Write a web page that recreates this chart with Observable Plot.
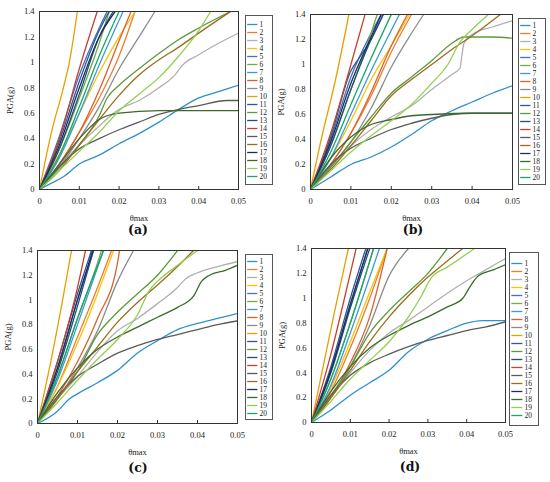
<!DOCTYPE html>
<html><head><meta charset="utf-8">
<script src="https://cdn.jsdelivr.net/npm/d3@7"></script>
<script src="https://cdn.jsdelivr.net/npm/@observablehq/plot@0.6"></script>
<style>
body{margin:0;background:#fff;}
#root{position:relative;width:550px;height:482px;overflow:hidden;background:#fff;}
.pl{position:absolute;overflow:visible;}
.lab{position:absolute;font-family:"DejaVu Serif","Liberation Serif",serif;font-weight:bold;font-size:12.5px;line-height:14px;color:#111;transform:translateX(-50%);}
</style></head>
<body><div id="root"></div>
<script>
const names = ["1","2","3","4","5","6","7","8","9","10","11","12","13","14","15","16","17","18","19","20"];
const colors = ["#2E90CF","#ED7D31","#B0B0B0","#FFC000","#4472C4","#70AD47","#3A9AD9","#D9622B","#8C8C8C","#E8A000","#2F5597","#5C9A3A","#1F4E79","#C8402A","#5A5A5A","#9C6B1F","#1B2E5A","#3B6A2B","#92D050","#19A56A"];
const xTicks = [0,0.01,0.02,0.03,0.04,0.05];
const yTicks = [0,0.2,0.4,0.6,0.8,1,1.2,1.4];
const panelLabels = ["(a)","(b)","(c)","(d)"];

const panelA = [
[[0,0],[0.003,0.05],[0.006,0.1],[0.01,0.2],[0.015,0.27],[0.02,0.36],[0.025,0.44],[0.03,0.53],[0.035,0.63],[0.04,0.72],[0.045,0.77],[0.05,0.82]],
[[0,0],[0.005,0.2],[0.01,0.45],[0.015,0.72],[0.02,1.05],[0.024,1.4]],
[[0,0],[0.005,0.18],[0.01,0.35],[0.015,0.5],[0.02,0.63],[0.025,0.7],[0.03,0.8],[0.034,0.9],[0.036,0.98],[0.04,1.06],[0.045,1.15],[0.05,1.23]],
[[0,0],[0.005,0.28],[0.01,0.6],[0.015,0.92],[0.02,1.2],[0.024,1.4]],
[[0,0],[0.005,0.42],[0.01,0.9],[0.015,1.27],[0.017,1.4]],
[[0,0],[0.005,0.32],[0.01,0.72],[0.015,1.15],[0.0175,1.4]],
[[0,0],[0.005,0.25],[0.01,0.6],[0.015,0.98],[0.021,1.4]],
[[0,0],[0.005,0.2],[0.01,0.45],[0.015,0.78],[0.02,1.17],[0.023,1.4]],
[[0,0],[0.005,0.18],[0.01,0.4],[0.015,0.65],[0.02,0.95],[0.025,1.2],[0.029,1.4]],
[[0,0],[0.003,0.45],[0.006,0.8],[0.0075,1.0],[0.0095,1.4]],
[[0,0],[0.005,0.38],[0.01,0.85],[0.015,1.25],[0.0175,1.4]],
[[0,0],[0.005,0.17],[0.01,0.35],[0.015,0.58],[0.017,0.72],[0.02,0.82],[0.025,0.95],[0.03,1.07],[0.035,1.18],[0.04,1.27],[0.048,1.4]],
[[0,0],[0.005,0.32],[0.01,0.75],[0.015,1.2],[0.0185,1.4]],
[[0,0],[0.005,0.4],[0.01,0.95],[0.0145,1.4]],
[[0,0],[0.005,0.18],[0.01,0.32],[0.015,0.4],[0.02,0.47],[0.025,0.53],[0.03,0.59],[0.035,0.63],[0.04,0.66],[0.047,0.7],[0.05,0.7]],
[[0,0],[0.005,0.15],[0.01,0.35],[0.015,0.55],[0.02,0.74],[0.025,0.9],[0.03,1.02],[0.035,1.12],[0.04,1.23],[0.048,1.4]],
[[0,0],[0.005,0.35],[0.01,0.8],[0.015,1.2],[0.019,1.4]],
[[0,0],[0.005,0.2],[0.01,0.4],[0.015,0.55],[0.02,0.6],[0.03,0.62],[0.04,0.62],[0.05,0.62]],
[[0,0],[0.005,0.15],[0.01,0.3],[0.015,0.45],[0.02,0.62],[0.025,0.75],[0.03,0.88],[0.035,1.05],[0.04,1.25],[0.043,1.4]],
[[0,0],[0.005,0.27],[0.01,0.65],[0.015,1.05],[0.02,1.4]]
];
const panelB = [
[[0,0],[0.005,0.1],[0.01,0.2],[0.015,0.26],[0.02,0.34],[0.025,0.44],[0.03,0.55],[0.035,0.63],[0.04,0.7],[0.045,0.77],[0.05,0.83]],
[[0,0],[0.005,0.2],[0.01,0.45],[0.015,0.75],[0.02,1.1],[0.025,1.4]],
[[0,0],[0.005,0.18],[0.01,0.35],[0.015,0.48],[0.02,0.58],[0.025,0.67],[0.03,0.8],[0.035,0.92],[0.037,0.97],[0.0375,1.08],[0.038,1.17],[0.04,1.24],[0.045,1.3],[0.05,1.35]],
[[0,0],[0.005,0.25],[0.01,0.55],[0.015,0.88],[0.02,1.15],[0.0245,1.4]],
[[0,0],[0.005,0.4],[0.01,0.9],[0.015,1.25],[0.0175,1.4]],
[[0,0],[0.005,0.35],[0.01,0.8],[0.015,1.25],[0.0165,1.4]],
[[0,0],[0.005,0.25],[0.01,0.6],[0.015,0.95],[0.022,1.4]],
[[0,0],[0.005,0.2],[0.01,0.45],[0.015,0.78],[0.02,1.15],[0.024,1.4]],
[[0,0],[0.005,0.18],[0.01,0.38],[0.015,0.65],[0.02,0.98],[0.025,1.25],[0.028,1.4]],
[[0,0],[0.003,0.45],[0.006,0.85],[0.0095,1.4]],
[[0,0],[0.005,0.42],[0.01,0.95],[0.012,1.05],[0.015,1.2],[0.018,1.4]],
[[0,0],[0.005,0.18],[0.01,0.38],[0.015,0.58],[0.02,0.77],[0.025,0.9],[0.03,1.03],[0.035,1.17],[0.038,1.22],[0.045,1.22],[0.05,1.21]],
[[0,0],[0.005,0.35],[0.01,0.8],[0.015,1.2],[0.018,1.4]],
[[0,0],[0.005,0.45],[0.01,1.0],[0.0135,1.4]],
[[0,0],[0.005,0.2],[0.01,0.33],[0.015,0.41],[0.02,0.48],[0.025,0.53],[0.03,0.57],[0.035,0.6],[0.04,0.61],[0.05,0.61]],
[[0,0],[0.005,0.16],[0.01,0.35],[0.015,0.55],[0.02,0.75],[0.025,0.88],[0.03,1.0],[0.035,1.12],[0.04,1.23],[0.047,1.4]],
[[0,0],[0.005,0.38],[0.01,0.85],[0.015,1.22],[0.0175,1.4]],
[[0,0],[0.005,0.25],[0.01,0.42],[0.015,0.52],[0.02,0.56],[0.025,0.59],[0.03,0.6],[0.04,0.61],[0.05,0.61]],
[[0,0],[0.005,0.15],[0.01,0.3],[0.015,0.43],[0.02,0.55],[0.025,0.68],[0.03,0.85],[0.034,1.0],[0.037,1.18],[0.04,1.28],[0.044,1.4]],
[[0,0],[0.005,0.3],[0.01,0.68],[0.015,1.05],[0.02,1.4]]
];
const panelC = [
[[0,0],[0.005,0.1],[0.008,0.2],[0.01,0.24],[0.015,0.33],[0.02,0.43],[0.025,0.57],[0.03,0.67],[0.035,0.76],[0.04,0.81],[0.045,0.85],[0.05,0.89]],
[[0,0],[0.005,0.3],[0.01,0.7],[0.015,1.1],[0.0185,1.4]],
[[0,0],[0.005,0.2],[0.01,0.38],[0.015,0.58],[0.02,0.75],[0.025,0.85],[0.03,0.97],[0.035,1.1],[0.037,1.17],[0.04,1.22],[0.045,1.27],[0.05,1.31]],
[[0,0],[0.005,0.3],[0.01,0.65],[0.015,1.05],[0.019,1.4]],
[[0,0],[0.005,0.45],[0.01,1.0],[0.014,1.4]],
[[0,0],[0.005,0.38],[0.01,0.85],[0.015,1.3],[0.016,1.4]],
[[0,0],[0.005,0.35],[0.01,0.8],[0.0165,1.4]],
[[0,0],[0.005,0.22],[0.01,0.5],[0.015,0.85],[0.02,1.3],[0.0205,1.4]],
[[0,0],[0.005,0.2],[0.01,0.45],[0.015,0.75],[0.02,1.15],[0.024,1.4]],
[[0,0],[0.003,0.45],[0.006,0.95],[0.0085,1.4]],
[[0,0],[0.005,0.5],[0.01,1.05],[0.0135,1.4]],
[[0,0],[0.005,0.2],[0.01,0.42],[0.015,0.72],[0.02,0.9],[0.025,1.05],[0.03,1.2],[0.035,1.4]],
[[0,0],[0.005,0.42],[0.01,0.95],[0.014,1.4]],
[[0,0],[0.005,0.5],[0.01,1.1],[0.012,1.4]],
[[0,0],[0.005,0.22],[0.01,0.38],[0.015,0.48],[0.02,0.57],[0.025,0.63],[0.03,0.68],[0.035,0.72],[0.04,0.76],[0.045,0.8],[0.05,0.83]],
[[0,0],[0.005,0.2],[0.01,0.42],[0.015,0.62],[0.02,0.82],[0.025,0.98],[0.03,1.12],[0.035,1.27],[0.039,1.4]],
[[0,0],[0.005,0.45],[0.01,1.0],[0.0138,1.4]],
[[0,0],[0.005,0.25],[0.01,0.45],[0.015,0.6],[0.02,0.7],[0.025,0.78],[0.03,0.86],[0.035,0.94],[0.039,1.03],[0.041,1.15],[0.043,1.2],[0.047,1.24],[0.05,1.28]],
[[0,0],[0.005,0.17],[0.01,0.35],[0.015,0.52],[0.02,0.68],[0.025,0.88],[0.028,1.08],[0.03,1.15],[0.035,1.28],[0.04,1.4]],
[[0,0],[0.005,0.38],[0.01,0.85],[0.0165,1.4]]
];
const panelD = [
[[0,0],[0.005,0.1],[0.01,0.22],[0.015,0.32],[0.02,0.42],[0.025,0.57],[0.03,0.67],[0.035,0.74],[0.04,0.8],[0.044,0.82],[0.05,0.82]],
[[0,0],[0.005,0.25],[0.01,0.6],[0.015,1.0],[0.0195,1.4]],
[[0,0],[0.005,0.2],[0.01,0.4],[0.015,0.58],[0.02,0.72],[0.025,0.82],[0.03,0.93],[0.035,1.04],[0.04,1.14],[0.045,1.23],[0.05,1.32]],
[[0,0],[0.005,0.28],[0.01,0.65],[0.015,1.05],[0.0195,1.4]],
[[0,0],[0.005,0.42],[0.01,0.95],[0.0145,1.4]],
[[0,0],[0.005,0.35],[0.01,0.8],[0.016,1.4]],
[[0,0],[0.005,0.3],[0.01,0.72],[0.0175,1.4]],
[[0,0],[0.005,0.2],[0.01,0.48],[0.015,0.85],[0.0195,1.4]],
[[0,0],[0.005,0.2],[0.01,0.45],[0.015,0.78],[0.02,1.18],[0.025,1.4]],
[[0,0],[0.003,0.45],[0.006,0.9],[0.0095,1.4]],
[[0,0],[0.005,0.45],[0.01,1.0],[0.014,1.4]],
[[0,0],[0.005,0.22],[0.01,0.45],[0.015,0.72],[0.02,0.9],[0.025,1.05],[0.03,1.2],[0.035,1.4]],
[[0,0],[0.005,0.4],[0.01,0.92],[0.015,1.4]],
[[0,0],[0.005,0.55],[0.01,1.2],[0.0115,1.4]],
[[0,0],[0.005,0.22],[0.01,0.38],[0.015,0.48],[0.02,0.55],[0.025,0.61],[0.03,0.66],[0.035,0.7],[0.04,0.74],[0.045,0.77],[0.05,0.81]],
[[0,0],[0.005,0.2],[0.01,0.42],[0.015,0.65],[0.02,0.85],[0.025,1.02],[0.03,1.17],[0.035,1.3],[0.039,1.4]],
[[0,0],[0.005,0.42],[0.01,0.95],[0.0145,1.4]],
[[0,0],[0.005,0.25],[0.01,0.45],[0.015,0.6],[0.02,0.7],[0.025,0.78],[0.03,0.85],[0.035,0.93],[0.039,1.0],[0.041,1.1],[0.043,1.18],[0.047,1.23],[0.05,1.27]],
[[0,0],[0.005,0.17],[0.01,0.35],[0.015,0.5],[0.02,0.65],[0.025,0.85],[0.028,1.0],[0.031,1.17],[0.035,1.25],[0.042,1.4]],
[[0,0],[0.005,0.35],[0.01,0.8],[0.016,1.4]]
];

const layouts = [
  {L:39, R:238, T:11, B:189, lx:245, lw:27, ly:11, lh:179, labX:138, labY:223},
  {L:310, R:512, T:14, B:189, lx:518, lw:27, ly:14, lh:176, labX:413, labY:223},
  {L:37, R:237, T:250, B:423, lx:245, lw:27, ly:250, lh:175, labX:138, labY:461},
  {L:311, R:505, T:248, B:422, lx:509, lw:29, ly:248, lh:183, labX:410, labY:460}
];
const panels = [panelA, panelB, panelC, panelD];
const root = document.getElementById("root");
const fmt = d => String(+d.toFixed(2));
const colorScale = {domain: names, range: colors};

panels.forEach((panel, k) => {
  const lay = layouts[k];
  const rows = panel.flatMap((pts, i) => pts.map(([x, y]) => ({s: names[i], x, y})));
  const mL = 40, mR = 12, mT = 5, mB = 40;
  const fh = lay.B - lay.T;

  const legend = Plot.plot({
    width: lay.lw, height: lay.lh,
    marginTop: 4, marginBottom: 6, marginLeft: 0, marginRight: 0,
    style: {fontFamily: "Liberation Serif, serif", fontSize: "7.5px", color: "#222", background: "white"},
    x: {domain: [0, 1], axis: null},
    y: {type: "point", domain: names, axis: null},
    color: colorScale,
    marks: [
      Plot.frame({stroke: "#555", strokeWidth: 1}),
      Plot.ruleY(names, {y: d => d, x1: 0.08, x2: 0.46, stroke: d => d, strokeWidth: 1.3}),
      Plot.text(names, {y: d => d, x: 0.52, text: d => d, textAnchor: "start", fill: "#222"})
    ]
  });
  legend.classList.add("pl");
  legend.style.left = lay.lx + "px";
  legend.style.top = lay.ly + "px";
  root.appendChild(legend);

  const chart = Plot.plot({
    width: (lay.R - lay.L) + mL + mR,
    height: fh + mT + mB,
    marginLeft: mL, marginRight: mR, marginTop: mT, marginBottom: mB,
    style: {fontFamily: "Liberation Serif, serif", fontSize: "8.5px", color: "#222", background: "transparent", overflow: "visible"},
    x: {domain: [0, 0.05]},
    y: {domain: [0, 1.4]},
    color: colorScale,
    marks: [
      Plot.line(rows, {x: "x", y: "y", z: "s", stroke: "s", curve: "monotone-x", strokeWidth: 1.3, clip: true}),
      Plot.ruleX(xTicks, {x: d => d, insetTop: fh - 3, stroke: "#333"}),
      Plot.frame({stroke: "#333", strokeWidth: 1}),
      Plot.axisX({ticks: xTicks, tickFormat: fmt, tickSize: 0, tickPadding: 8, label: "θmax", labelAnchor: "center", labelArrow: "none", labelOffset: 31}),
      Plot.axisY({ticks: yTicks, tickFormat: fmt, tickSize: 0, tickPadding: 5, label: "PGA(g)", labelAnchor: "center", labelArrow: "none", labelOffset: 33})
    ]
  });
  chart.classList.add("pl");
  chart.style.left = (lay.L - mL) + "px";
  chart.style.top = (lay.T - mT) + "px";
  root.appendChild(chart);

  const lab = document.createElement("div");
  lab.className = "lab";
  lab.textContent = panelLabels[k];
  lab.style.left = lay.labX + "px";
  lab.style.top = lay.labY + "px";
  root.appendChild(lab);
});
</script></body></html>
